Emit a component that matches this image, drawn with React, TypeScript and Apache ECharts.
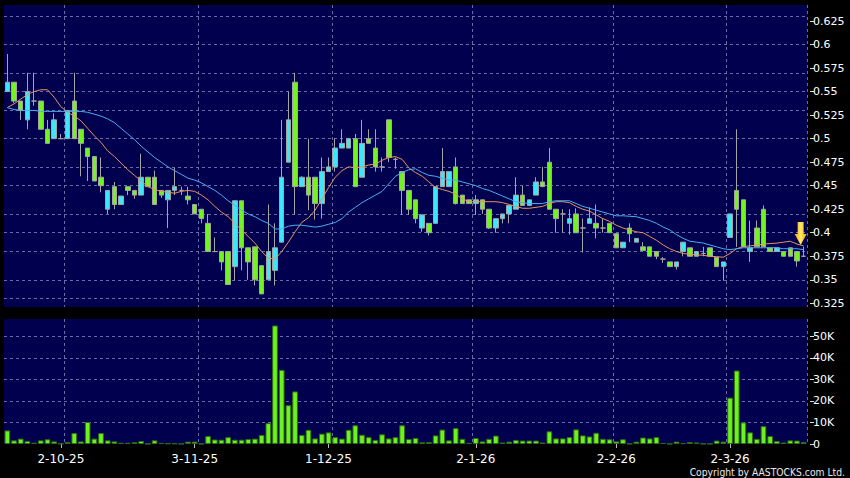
import React, { useEffect, useRef } from "react";
import * as echarts from "echarts";

// trading days shown (day numbers per month)
const sep25 = [19, 22, 23, 24, 25, 26, 29, 30];
const oct25 = [2, 3, 6, 8, 9, 10, 13, 14, 15, 16, 17, 20, 21, 22, 23, 24, 27, 28, 30, 31];
const nov25 = [3, 4, 5, 6, 7, 10, 11, 12, 13, 14, 17, 18, 19, 20, 21, 24, 25, 26, 27, 28];
const dec25 = [1, 2, 3, 4, 5, 8, 9, 10, 11, 12, 15, 16, 17, 18, 19, 22, 23, 24, 29, 30, 31];
const jan26 = [2, 5, 6, 7, 8, 9, 12, 13, 14, 15, 16, 19, 20, 21, 22, 23, 26, 27, 28, 29, 30];
const feb26 = [2, 3, 4, 5, 6, 9, 10, 11, 12, 13, 16, 20, 23, 24, 25, 26, 27];
const mar26 = [2, 3, 4, 5, 6, 9, 10, 11, 12, 13, 16, 17, 18];

const dates: string[] = [
  ...sep25.map((d) => `${d}-9-25`),
  ...oct25.map((d) => `${d}-10-25`),
  ...nov25.map((d) => `${d}-11-25`),
  ...dec25.map((d) => `${d}-12-25`),
  ...jan26.map((d) => `${d}-1-26`),
  ...feb26.map((d) => `${d}-2-26`),
  ...mar26.map((d) => `${d}-3-26`),
];

const xTickIndex = [8, 28, 48, 70, 91, 108];
const xTickLabels = ["2-10-25", "3-11-25", "1-12-25", "2-1-26", "2-2-26", "2-3-26"];
const xGridIndex = [9, 29, 49, 70, 91, 108];

const priceTicks = [0.325, 0.35, 0.375, 0.4, 0.425, 0.45, 0.475, 0.5, 0.525, 0.55, 0.575, 0.6, 0.625];
const volumeTicks = [0, 10000, 20000, 30000, 40000, 50000];

const open = [
  0.55, 0.56, 0.54, 0.52, 0.54, 0.54, 0.51, 0.5, 0.5, 0.5,
  0.54, 0.51, 0.49, 0.481, 0.459, 0.425, 0.449, 0.43, 0.449, 0.445,
  0.44, 0.459, 0.459, 0.445, 0.435, 0.445, 0.445, 0.439, 0.43, 0.425,
  0.41, 0.38, 0.38, 0.38, 0.364, 0.434, 0.384, 0.385, 0.365, 0.35,
  0.36, 0.39, 0.475, 0.56, 0.449, 0.459, 0.459, 0.431, 0.465, 0.47,
  0.49, 0.49, 0.5, 0.459, 0.5, 0.49, 0.47, 0.52, 0.478, 0.465,
  0.445, 0.435, 0.405, 0.41, 0.41, 0.449, 0.449, 0.47, 0.44, 0.435,
  0.431, 0.435, 0.425, 0.405, 0.415, 0.42, 0.425, 0.44, 0.429, 0.44,
  0.454, 0.475, 0.425, 0.42, 0.41, 0.42, 0.405, 0.41, 0.41, 0.405,
  0.41, 0.399, 0.384, 0.405, 0.39, 0.385, 0.385, 0.38, 0.372, 0.369,
  0.364, 0.38, 0.384, 0.375, 0.378, 0.384, 0.374, 0.364, 0.395, 0.445,
  0.435, 0.38, 0.405, 0.425, 0.384, 0.38, 0.38, 0.384, 0.38, 0.375,
];
const close = [
  0.56, 0.54, 0.53, 0.55, 0.54, 0.51, 0.495, 0.52, 0.5, 0.53,
  0.5, 0.495, 0.481, 0.455, 0.45, 0.445, 0.43, 0.439, 0.445, 0.44,
  0.459, 0.449, 0.43, 0.44, 0.445, 0.449, 0.445, 0.435, 0.42, 0.415,
  0.38, 0.38, 0.369, 0.345, 0.434, 0.384, 0.369, 0.35, 0.335, 0.38,
  0.384, 0.459, 0.52, 0.449, 0.459, 0.44, 0.431, 0.465, 0.47, 0.49,
  0.495, 0.5, 0.449, 0.495, 0.495, 0.47, 0.47, 0.48, 0.478, 0.445,
  0.425, 0.415, 0.419, 0.4, 0.449, 0.465, 0.465, 0.431, 0.431, 0.431,
  0.435, 0.425, 0.405, 0.415, 0.42, 0.429, 0.44, 0.429, 0.435, 0.454,
  0.449, 0.425, 0.415, 0.42, 0.415, 0.4, 0.405, 0.415, 0.405, 0.405,
  0.4, 0.384, 0.39, 0.399, 0.394, 0.381, 0.375, 0.375, 0.372, 0.364,
  0.369, 0.39, 0.375, 0.38, 0.378, 0.375, 0.364, 0.369, 0.42, 0.425,
  0.385, 0.384, 0.385, 0.385, 0.38, 0.384, 0.375, 0.375, 0.37, 0.375,
];
const low = [
  0.55, 0.538, 0.52, 0.51, 0.535, 0.51, 0.495, 0.5, 0.5, 0.5,
  0.5, 0.46, 0.455, 0.455, 0.443, 0.42, 0.425, 0.43, 0.44, 0.436,
  0.44, 0.449, 0.43, 0.437, 0.405, 0.44, 0.44, 0.43, 0.42, 0.41,
  0.38, 0.38, 0.36, 0.345, 0.349, 0.36, 0.35, 0.344, 0.335, 0.35,
  0.344, 0.39, 0.475, 0.419, 0.449, 0.424, 0.414, 0.415, 0.465, 0.465,
  0.49, 0.49, 0.449, 0.459, 0.495, 0.465, 0.465, 0.475, 0.468, 0.419,
  0.419, 0.41, 0.401, 0.397, 0.41, 0.449, 0.449, 0.43, 0.431, 0.431,
  0.419, 0.42, 0.404, 0.4, 0.41, 0.41, 0.425, 0.429, 0.429, 0.44,
  0.449, 0.425, 0.4, 0.4, 0.398, 0.4, 0.379, 0.41, 0.394, 0.4,
  0.4, 0.384, 0.384, 0.39, 0.39, 0.381, 0.375, 0.372, 0.368, 0.364,
  0.361, 0.375, 0.375, 0.375, 0.375, 0.375, 0.364, 0.349, 0.395, 0.385,
  0.385, 0.369, 0.385, 0.385, 0.38, 0.38, 0.375, 0.375, 0.364, 0.375,
];
const high = [
  0.59, 0.56, 0.54, 0.57, 0.57, 0.54, 0.52, 0.527, 0.505, 0.53,
  0.57, 0.51, 0.49, 0.481, 0.48, 0.445, 0.454, 0.439, 0.449, 0.445,
  0.484, 0.459, 0.466, 0.445, 0.445, 0.469, 0.449, 0.449, 0.43, 0.425,
  0.42, 0.395, 0.38, 0.38, 0.434, 0.434, 0.384, 0.385, 0.365, 0.43,
  0.41, 0.52, 0.55, 0.57, 0.46, 0.5, 0.459, 0.48, 0.48, 0.5,
  0.51, 0.5, 0.505, 0.52, 0.51, 0.51, 0.48, 0.52, 0.48, 0.465,
  0.445, 0.435, 0.419, 0.41, 0.449, 0.49, 0.465, 0.48, 0.44, 0.435,
  0.44, 0.435, 0.425, 0.415, 0.42, 0.429, 0.459, 0.45, 0.435, 0.459,
  0.47, 0.49, 0.425, 0.425, 0.425, 0.426, 0.415, 0.427, 0.43, 0.415,
  0.41, 0.399, 0.39, 0.41, 0.394, 0.39, 0.385, 0.38, 0.374, 0.369,
  0.369, 0.39, 0.384, 0.38, 0.385, 0.384, 0.374, 0.369, 0.42, 0.51,
  0.435, 0.413, 0.413, 0.429, 0.384, 0.384, 0.38, 0.384, 0.38, 0.385,
];
const maShort = [
  0.533, 0.537, 0.542, 0.547, 0.55, 0.552, 0.552, 0.544, 0.534, 0.528,
  0.524, 0.519, 0.511, 0.503, 0.496, 0.487, 0.481, 0.474, 0.467, 0.461,
  0.455, 0.449, 0.446, 0.444, 0.443, 0.442, 0.444, 0.445, 0.444, 0.44,
  0.435, 0.428, 0.422, 0.417, 0.41, 0.403, 0.396, 0.389, 0.38, 0.373,
  0.372, 0.38, 0.39, 0.401, 0.411, 0.416, 0.424, 0.436, 0.448, 0.459,
  0.466, 0.47, 0.469, 0.47, 0.472, 0.473, 0.477, 0.48, 0.481, 0.478,
  0.469, 0.464, 0.46, 0.454, 0.448, 0.446, 0.444, 0.441, 0.436, 0.433,
  0.433, 0.433, 0.433, 0.433, 0.432, 0.43, 0.428, 0.426, 0.426, 0.427,
  0.428, 0.431, 0.433, 0.433, 0.432, 0.428, 0.425, 0.423, 0.419, 0.415,
  0.412, 0.408, 0.405, 0.403, 0.401, 0.4, 0.396, 0.392, 0.387, 0.383,
  0.38, 0.378, 0.377, 0.3765, 0.376, 0.375, 0.3745, 0.374, 0.378, 0.383,
  0.3855, 0.386, 0.387, 0.388, 0.3885, 0.389, 0.39, 0.391, 0.388, 0.386,
];
const maLong = [
  0.533, 0.531, 0.53, 0.53, 0.53, 0.529, 0.529, 0.529, 0.529, 0.529,
  0.529, 0.529, 0.528, 0.526, 0.524, 0.521, 0.517, 0.511, 0.505, 0.499,
  0.492, 0.486, 0.48, 0.475, 0.47, 0.466, 0.462, 0.458, 0.456, 0.453,
  0.449, 0.445, 0.44, 0.434, 0.429, 0.424, 0.42, 0.417, 0.413, 0.41,
  0.404, 0.404, 0.407, 0.408, 0.408, 0.407, 0.406, 0.407, 0.409, 0.411,
  0.415, 0.422, 0.427, 0.432, 0.436, 0.44, 0.444, 0.452, 0.46, 0.464,
  0.467, 0.468, 0.464, 0.461, 0.46, 0.458, 0.456, 0.456, 0.454, 0.452,
  0.45, 0.447, 0.445, 0.442, 0.439, 0.436, 0.433, 0.432, 0.431, 0.431,
  0.431, 0.433, 0.434, 0.434, 0.434, 0.431, 0.428, 0.426, 0.424, 0.422,
  0.42, 0.418, 0.418, 0.4175, 0.417, 0.415, 0.413, 0.41, 0.406, 0.403,
  0.398, 0.394, 0.391, 0.39, 0.389, 0.387, 0.385, 0.383, 0.382, 0.383,
  0.384, 0.384, 0.384, 0.384, 0.384, 0.384, 0.383, 0.383, 0.383, 0.382,
];
const volume = [
  6300, 1700, 2500, 1400, 600, 1700, 2200, 1200, 200, 900,
  5100, 1200, 10200, 2500, 5100, 1700, 1200, 600, 600, 800,
  1400, 100, 1700, 500, 300, 300, 100, 1100, 1100, 100,
  3700, 2100, 2000, 3200, 2000, 2000, 2300, 2500, 4200, 9700,
  55000, 34400, 18000, 24400, 4200, 6600, 2600, 4800, 5400, 3200,
  2500, 6600, 8700, 4300, 3200, 1900, 4500, 2600, 3200, 8700,
  2300, 2800, 800, 900, 4000, 6700, 1700, 7400, 2400, 500,
  2800, 1200, 2400, 3900, 700, 1100, 1900, 1600, 1600, 1600,
  700, 5900, 2600, 2600, 3200, 6800, 4000, 3500, 5200, 2400,
  2200, 1200, 2200, 100, 1100, 3000, 2600, 3200, 500, 100,
  1100, 400, 900, 700, 100, 100, 1600, 1100, 21500, 34100,
  10000, 5400, 2400, 8300, 3700, 1400, 700, 1700, 1600, 900,
];

const FONT = "DejaVu Sans";
const NAVY = "#00004e";
const GRIDLINE = "#6a6aa6";
const UP = "#3ce8f8";
const DOWN = "#72f51c";

export default function App() {
  const ref = useRef<HTMLDivElement>(null);
  useEffect(() => {
    if (!ref.current) return;
    const chart = echarts.init(ref.current, undefined, { renderer: "svg" });
    const splitLineX = {
      show: true,
      interval: (i: number) => xGridIndex.includes(i),
      lineStyle: { color: GRIDLINE, type: [3, 3], width: 1 },
    };
    const gridMarkLine = (vals: number[]) => ({
      silent: true,
      symbol: "none",
      z: 1,
      label: { show: false },
      emphasis: { disabled: true },
      lineStyle: { color: GRIDLINE, type: [3, 3], width: 1 },
      data: vals.map((v) => ({ yAxis: v })),
    });
    const arrowPath =
      "path://M3,0 L9,0 L9,12 L12,12 L6,23 L0,12 L3,12 Z";
    chart.setOption({
      animation: false,
      backgroundColor: "#000000",
      textStyle: { fontFamily: FONT },
      grid: [
        { left: 4, top: 5, width: 803, height: 302, show: true, backgroundColor: NAVY, borderWidth: 0 },
        { left: 4, top: 319, width: 803, height: 125, show: true, backgroundColor: NAVY, borderWidth: 0 },
      ],
      xAxis: [
        {
          type: "category",
          gridIndex: 0,
          data: dates,
          boundaryGap: true,
          axisLine: { show: false },
          axisTick: { show: false },
          axisLabel: { show: false },
          splitLine: splitLineX,
        },
        {
          type: "category",
          gridIndex: 1,
          data: dates,
          boundaryGap: true,
          axisLine: { show: false },
          axisTick: {
            show: true,
            alignWithLabel: true,
            interval: (i: number) => xTickIndex.includes(i),
            length: 4,
            lineStyle: { color: "#bbbbbb" },
          },
          axisLabel: {
            interval: (i: number) => xTickIndex.includes(i),
            formatter: (_v: string, i: number) => {
              const k = xTickIndex.indexOf(i);
              return k >= 0 ? xTickLabels[k] : "";
            },
            color: "#ffffff",
            fontSize: 12,
            fontFamily: FONT,
            margin: 9,
          },
          splitLine: splitLineX,
        },
      ],
      yAxis: [
        {
          type: "value",
          gridIndex: 0,
          position: "right",
          min: 0.32107,
          max: 0.64207,
          offset: 3,
          splitLine: { show: false },
          axisLine: { show: false },
          axisTick: { show: true, customValues: priceTicks, length: 4, lineStyle: { color: "#dddddd" } },
          axisLabel: {
            customValues: priceTicks,
            color: "#ffffff",
            fontSize: 11,
            fontFamily: FONT,
            margin: 3,
            formatter: (v: number) => String(+v.toFixed(3)),
          },
        },
        {
          type: "value",
          gridIndex: 1,
          position: "right",
          min: 0,
          max: 58000,
          offset: 3,
          splitLine: { show: false },
          axisLine: { show: false },
          axisTick: { show: true, customValues: volumeTicks, length: 4, lineStyle: { color: "#dddddd" } },
          axisLabel: {
            customValues: volumeTicks,
            color: "#ffffff",
            fontSize: 11,
            fontFamily: FONT,
            margin: 3,
            formatter: (v: number) => (v === 0 ? "0" : `${Math.round(v / 1000)}K`),
          },
        },
      ],
      series: [
        {
          type: "candlestick",
          xAxisIndex: 0,
          yAxisIndex: 0,
          barWidth: 5,
          data: dates.map((_, i) => [open[i], close[i], low[i], high[i]]),
          itemStyle: {
            color: UP,
            color0: DOWN,
            borderColor: "#a4a4a4",
            borderColor0: "#a4a4a4",
            borderWidth: 1,
          },
          markLine: gridMarkLine(priceTicks),
          markPoint: {
            silent: true,
            symbol: arrowPath,
            symbolSize: [12, 23],
            symbolOffset: [-3, 0],
            label: { show: false },
            itemStyle: {
              color: new echarts.graphic.LinearGradient(0, 0, 1, 0, [
                { offset: 0, color: "#f0a800" },
                { offset: 0.5, color: "#ffe866" },
                { offset: 1, color: "#f0a800" },
              ]),
            },
            data: [{ coord: [dates[dates.length - 1], 0.3992] }],
          },
        },
        {
          type: "line",
          xAxisIndex: 0,
          yAxisIndex: 0,
          data: maShort,
          symbol: "none",
          lineStyle: { color: "#e8935c", width: 1 },
          silent: true,
        },
        {
          type: "line",
          xAxisIndex: 0,
          yAxisIndex: 0,
          data: maLong,
          symbol: "none",
          lineStyle: { color: "#49aef2", width: 1 },
          silent: true,
        },
        {
          type: "bar",
          xAxisIndex: 1,
          yAxisIndex: 1,
          data: volume,
          barWidth: "85%",
          itemStyle: { color: "#6cf21c", borderColor: "#2f6f10", borderWidth: 1 },
          markLine: gridMarkLine([10000, 20000, 30000, 40000, 50000]),
        },
      ],
      graphic: [
        {
          type: "text",
          x: 845,
          y: 472,
          scaleX: 0.84,
          style: {
            text: "Copyright by AASTOCKS.com Ltd.",
            fill: "#e8e8e8",
            font: `11px "${FONT}"`,
            align: "right",
            verticalAlign: "middle",
          },
        },
      ],
    });
    return () => chart.dispose();
  }, []);
  return (
    <div
      ref={ref}
      style={{ position: "fixed", left: 0, top: 0, width: 850, height: 478, background: "#000" }}
    />
  );
}
